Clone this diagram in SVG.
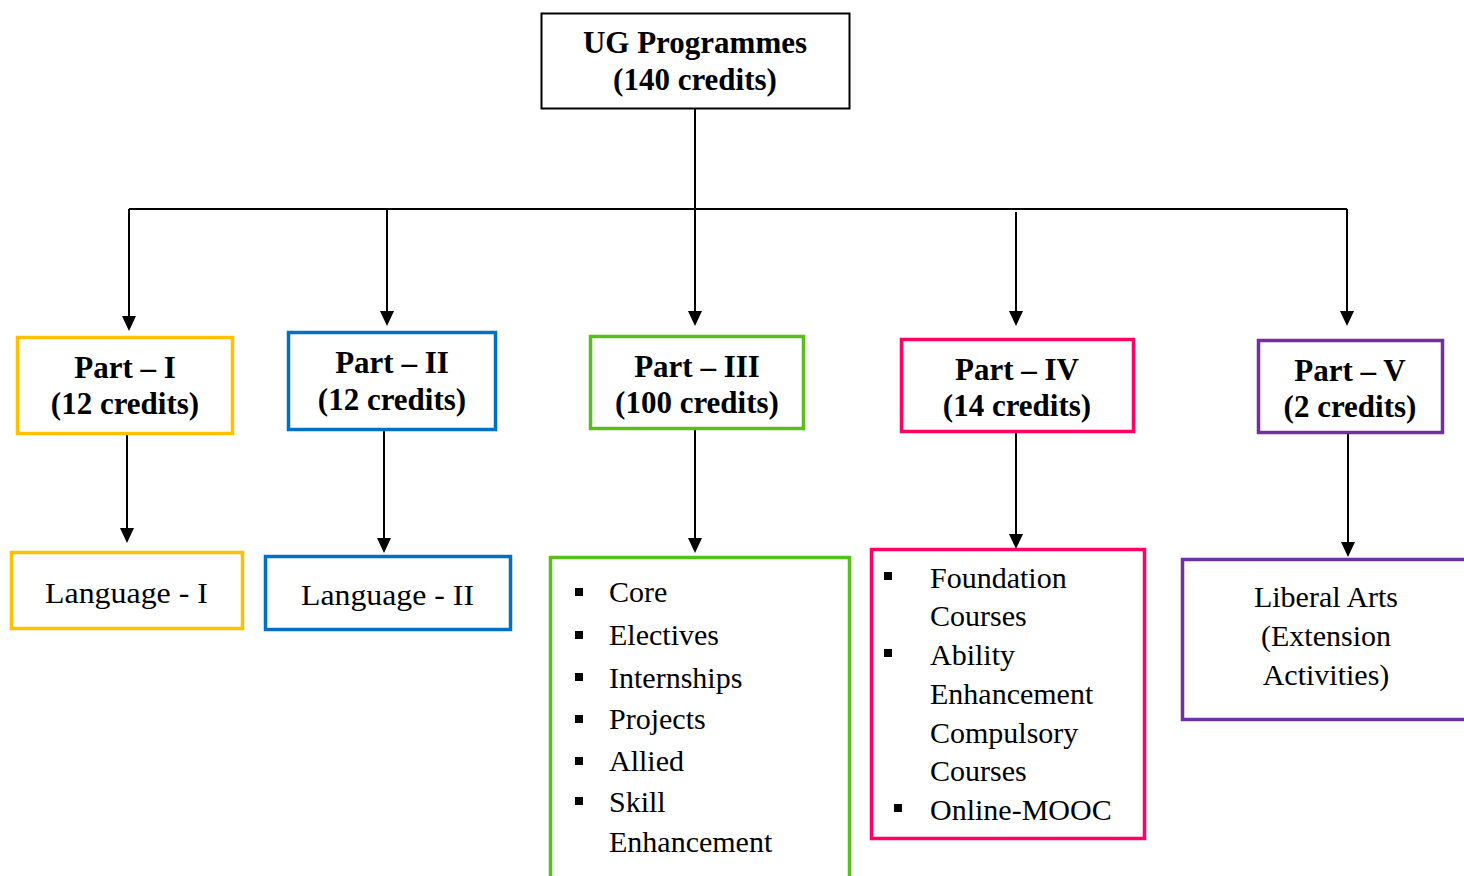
<svg xmlns="http://www.w3.org/2000/svg" width="1464" height="876" viewBox="0 0 1464 876">
<defs>
<style>
.b{font-family:'Liberation Serif',serif;font-weight:bold;font-size:31px;fill:#000;text-anchor:middle}
.r{font-family:'Liberation Serif',serif;font-size:30px;fill:#000}
.c{text-anchor:middle}
.box{fill:#fff;stroke-width:3.5}
.ln{stroke:#000;stroke-width:2;fill:none}
.y{stroke:#FFC000}.bl{stroke:#0070C0}.g{stroke:#59BE1B}.p{stroke:#FF0066}.v{stroke:#7030A0}
.bul{fill:#000}
.ah{fill:#000}
</style>
</defs>
<rect width="1464" height="876" fill="#fff"/>
<g id="connectors">
<path class="ln" d="M695,108 V209 M129,209 H1347"/>
<path class="ln" d="M129,209 V318 M387,209 V313 M695,209 V313 M1016,212 V313 M1347,209 V313"/>
<path class="ah" d="M122,316 L136,316 L129,331 Z M380,311 L394,311 L387,326 Z M688,311 L702,311 L695,326 Z M1009,311 L1023,311 L1016,326 Z M1340,311 L1354,311 L1347,326 Z"/>
<path class="ln" d="M127,434 V530 M384,430 V540 M695,429 V540 M1016,432 V536 M1348,433 V544"/>
<path class="ah" d="M120,528 L134,528 L127,543 Z M377,538 L391,538 L384,553 Z M688,538 L702,538 L695,553 Z M1009,534 L1023,534 L1016,549 Z M1341,542 L1355,542 L1348,557 Z"/>
</g>
<g id="ug">
<rect x="541.5" y="13.5" width="308" height="95" fill="#fff" stroke="#000" stroke-width="2"/>
<text class="b" x="695" y="53">UG Programmes</text>
<text class="b" x="695" y="90">(140 credits)</text>
</g>
<g id="part1">
<rect class="box y" x="17.5" y="337.5" width="215" height="96"/>
<text class="b" x="125" y="378">Part – I</text>
<text class="b" x="125" y="414">(12 credits)</text>
</g>
<g id="part2">
<rect class="box bl" x="288.5" y="332.5" width="207" height="97"/>
<text class="b" x="392" y="373">Part – II</text>
<text class="b" x="392" y="410">(12 credits)</text>
</g>
<g id="part3">
<rect class="box g" x="590.5" y="336.5" width="213" height="92"/>
<text class="b" x="697" y="377">Part – III</text>
<text class="b" x="697" y="413">(100 credits)</text>
</g>
<g id="part4">
<rect class="box p" x="901.5" y="339.5" width="232" height="92"/>
<text class="b" x="1017" y="380">Part – IV</text>
<text class="b" x="1017" y="416">(14 credits)</text>
</g>
<g id="part5">
<rect class="box v" x="1258.5" y="340.5" width="184" height="92"/>
<text class="b" x="1350" y="381">Part – V</text>
<text class="b" x="1350" y="417">(2 credits)</text>
</g>
<g id="lang1">
<rect class="box y" x="11.5" y="552.5" width="231" height="76"/>
<text class="r" x="45" y="603" textLength="163" lengthAdjust="spacingAndGlyphs">Language - I</text>
</g>
<g id="lang2">
<rect class="box bl" x="265.5" y="556.5" width="245" height="73"/>
<text class="r" x="301" y="605" textLength="173" lengthAdjust="spacingAndGlyphs">Language - II</text>
</g>
<g id="core">
<rect class="box g" x="550.5" y="557.5" width="299" height="330"/>
<rect class="bul" x="575" y="588" width="8" height="8"/>
<text class="r" x="609" y="602">Core</text>
<rect class="bul" x="575" y="631" width="8" height="8"/>
<text class="r" x="609" y="645">Electives</text>
<rect class="bul" x="575" y="673" width="8" height="8"/>
<text class="r" x="609" y="688">Internships</text>
<rect class="bul" x="575" y="715" width="8" height="8"/>
<text class="r" x="609" y="729">Projects</text>
<rect class="bul" x="575" y="757" width="8" height="8"/>
<text class="r" x="609" y="771">Allied</text>
<rect class="bul" x="575" y="797" width="8" height="8"/>
<text class="r" x="609" y="812">Skill</text>
<text class="r" x="609" y="852">Enhancement</text>
</g>
<g id="found">
<rect class="box p" x="871.5" y="549.5" width="273" height="289"/>
<rect class="bul" x="884" y="572" width="8" height="8"/>
<text class="r" x="930" y="588">Foundation</text>
<text class="r" x="930" y="626">Courses</text>
<rect class="bul" x="884" y="649" width="8" height="8"/>
<text class="r" x="930" y="665">Ability</text>
<text class="r" x="930" y="704">Enhancement</text>
<text class="r" x="930" y="743">Compulsory</text>
<text class="r" x="930" y="781">Courses</text>
<rect class="bul" x="894" y="804" width="8" height="8"/>
<text class="r" x="930" y="820">Online-MOOC</text>
</g>
<g id="liberal">
<rect class="box v" x="1182.5" y="559.5" width="290" height="160"/>
<text class="r c" x="1326" y="607">Liberal Arts</text>
<text class="r c" x="1326" y="646">(Extension</text>
<text class="r c" x="1326" y="685">Activities)</text>
</g>
</svg>
